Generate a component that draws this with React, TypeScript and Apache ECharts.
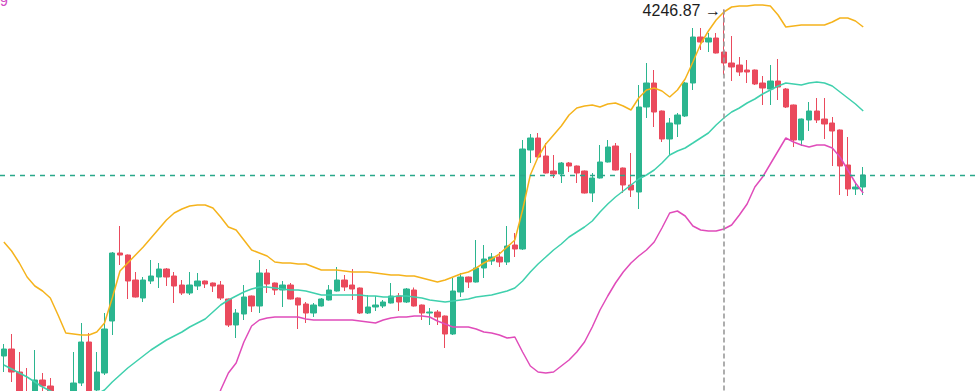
import React, { useEffect, useRef } from "react";
import * as echarts from "echarts";

const openP = [
  2861, 2889, 2797, 2713, 2685, 2765, 2741, 2705, 2665, 2685,
  2753, 2917, 2725, 2793, 3001, 3273, 3265, 3165, 3093, 3161,
  3177, 3209, 3181, 3145, 3113, 3141, 3161, 3153, 3145, 3089,
  2985, 3029, 3101, 3061, 3193, 3153, 3125, 3145, 3093, 3069,
  3033, 3061, 3085, 3121, 3165, 3145, 3133, 3033, 3057, 3061,
  3073, 3101, 3077, 3125, 3065, 3033, 3037, 3021, 2949, 3117,
  3177, 3157, 3213, 3241, 3257, 3237, 3305, 3289, 3685, 3733,
  3661, 3601, 3589, 3633, 3621, 3601, 3513, 3573, 3637, 3701,
  3613, 3545, 3517, 3857, 3953, 3841, 3729, 3789, 3821, 3953,
  4137, 4117, 4133, 4077, 4033, 4025, 4005, 4005, 3953, 3929,
  3961, 3929, 3865, 3725, 3805, 3841, 3809, 3793, 3765, 3625,
  3529, 3537,
];
const closeP = [
  2889, 2797, 2685, 2677, 2765, 2741, 2701, 2665, 2693, 2753,
  2917, 2685, 2797, 2969, 3273, 3265, 3161, 3097, 3165, 3181,
  3209, 3177, 3141, 3113, 3145, 3161, 3149, 3141, 3093, 2985,
  3033, 3097, 3061, 3193, 3149, 3125, 3145, 3089, 3065, 3033,
  3065, 3089, 3125, 3165, 3137, 3129, 3033, 3057, 3065, 3077,
  3101, 3077, 3129, 3061, 3033, 3037, 3017, 2949, 3121, 3177,
  3157, 3213, 3249, 3257, 3237, 3301, 3289, 3689, 3733, 3657,
  3593, 3589, 3633, 3621, 3593, 3513, 3573, 3637, 3697, 3605,
  3545, 3525, 3857, 3953, 3837, 3729, 3793, 3825, 3953, 4137,
  4117, 4133, 4073, 4033, 4017, 3997, 3997, 3949, 3933, 3961,
  3937, 3857, 3725, 3809, 3841, 3805, 3789, 3761, 3621, 3529,
  3537, 3585,
];
const lowP = [
  2797, 2757, 2645, 2645, 2665, 2685, 2677, 2645, 2637, 2677,
  2741, 2665, 2709, 2785, 2945, 3225, 3089, 3095, 3077, 3149,
  3133, 3141, 3073, 3105, 3105, 3125, 3133, 3117, 3085, 2977,
  2933, 3005, 3037, 3033, 3113, 3105, 3057, 3087, 2969, 2993,
  3017, 3059, 3083, 3119, 3121, 3085, 3029, 3029, 3041, 3053,
  3071, 3041, 3073, 3059, 3005, 2985, 2985, 2893, 2945, 3097,
  3133, 3155, 3173, 3225, 3217, 3225, 3257, 3285, 3633, 3655,
  3591, 3573, 3553, 3597, 3553, 3511, 3477, 3571, 3635, 3603,
  3513, 3497, 3449, 3813, 3777, 3717, 3665, 3737, 3817, 3925,
  4085, 4077, 4071, 3985, 3961, 3981, 3953, 3945, 3865, 3865,
  3885, 3853, 3697, 3701, 3761, 3793, 3729, 3621, 3505, 3501,
  3505, 3505,
];
const highP = [
  2909, 2949, 2877, 2813, 2885, 2793, 2773, 2713, 2705, 2877,
  2993, 2953, 2877, 3033, 3277, 3381, 3267, 3197, 3177, 3245,
  3233, 3213, 3197, 3165, 3197, 3193, 3163, 3155, 3161, 3091,
  3049, 3145, 3103, 3245, 3209, 3155, 3161, 3153, 3095, 3077,
  3073, 3093, 3145, 3217, 3185, 3209, 3135, 3105, 3101, 3085,
  3153, 3113, 3133, 3135, 3067, 3053, 3045, 3023, 3173, 3193,
  3179, 3325, 3305, 3273, 3277, 3381, 3353, 3725, 3749, 3753,
  3713, 3665, 3637, 3637, 3623, 3603, 3593, 3705, 3725, 3713,
  3615, 3673, 3945, 4033, 4005, 3843, 3813, 3833, 3957, 4173,
  4173, 4153, 4153, 4246.87, 4141, 4057, 4045, 4007, 3981, 4025,
  4049, 3933, 3867, 3811, 3877, 3893, 3893, 3817, 3767, 3737,
  3553, 3617,
];
const bandUpper = [
  3317, 3281, 3233, 3177, 3141, 3121, 3093, 3025, 2953, 2949,
  2945, 2945, 2957, 2993, 3093, 3201, 3233, 3265, 3297, 3333,
  3369, 3405, 3433, 3449, 3461, 3465, 3465, 3453, 3417, 3377,
  3365, 3325, 3285, 3273, 3261, 3237, 3233, 3233, 3229, 3229,
  3217, 3205, 3205, 3205, 3201, 3197, 3197, 3197, 3193, 3189,
  3185, 3185, 3181, 3181, 3173, 3165, 3157, 3165, 3177, 3189,
  3197, 3213, 3233, 3249, 3269, 3297, 3325, 3445, 3585, 3657,
  3709, 3745, 3781, 3825, 3853, 3861, 3865, 3857, 3869, 3873,
  3861, 3845, 3893, 3925, 3933, 3921, 3897, 3925, 3969, 4037,
  4109, 4161, 4205, 4237, 4257, 4261, 4261, 4265, 4265, 4261,
  4225, 4177, 4181, 4185, 4185, 4185, 4185, 4197, 4213, 4213,
  4201, 4177,
];
const bandMid = [
  2825, 2809, 2793, 2777, 2757, 2737, 2721, 2709, 2697, 2693,
  2693, 2697, 2709, 2725, 2757, 2785, 2813, 2837, 2861, 2885,
  2905, 2925, 2941, 2957, 2977, 2993, 3009, 3037, 3065, 3085,
  3101, 3117, 3129, 3137, 3137, 3133, 3129, 3125, 3125, 3121,
  3113, 3105, 3105, 3105, 3105, 3105, 3105, 3101, 3101, 3097,
  3097, 3101, 3101, 3097, 3093, 3085, 3081, 3077, 3081, 3085,
  3089, 3097, 3101, 3105, 3113, 3121, 3133, 3161, 3197, 3229,
  3257, 3285, 3309, 3337, 3357, 3377, 3401, 3437, 3469, 3497,
  3521, 3545, 3569, 3585, 3605, 3633, 3665, 3681, 3693, 3713,
  3733, 3753, 3785, 3813, 3837, 3853, 3873, 3889, 3909, 3925,
  3941, 3953, 3949, 3945, 3953, 3957, 3953, 3941, 3917, 3893,
  3869, 3841,
];
const bandLower = [
  2333, 2337, 2353, 2377, 2373, 2353, 2349, 2393, 2441, 2437,
  2441, 2449, 2461, 2457, 2421, 2369, 2393, 2409, 2425, 2437,
  2441, 2445, 2449, 2465, 2493, 2521, 2553, 2621, 2725, 2793,
  2833, 2917, 2981, 3005, 3013, 3017, 3017, 3017, 3017, 3009,
  3005, 3005, 3005, 3005, 3005, 3005, 3001, 2997, 2993, 3005,
  3013, 3017, 3017, 3021, 3021, 3017, 3001, 2989, 2977, 2977,
  2977, 2969, 2957, 2953, 2945, 2933, 2937, 2877, 2821, 2797,
  2793, 2797, 2821, 2845, 2877, 2917, 2977, 3045, 3101, 3153,
  3197, 3233, 3261, 3285, 3317, 3373, 3433, 3441, 3421, 3381,
  3365, 3361, 3361, 3369, 3385, 3425, 3469, 3537, 3577, 3629,
  3681, 3733, 3717, 3705, 3697, 3705, 3705, 3693, 3657, 3605,
  3553, 3513,
];
const PEAK_INDEX = 93;
const PEAK_VALUE = 4246.87;
const LAST_PRICE = 3585;
const TOTAL_SLOTS = 126;
const categories: string[] = Array.from({ length: TOTAL_SLOTS }, (_, i) => "D" + (i + 1));

const Y_MIN = 2721;
const Y_MAX = 4285;

const UP = "#2bb58f";
const DOWN = "#ea4a5d";

export default function App() {
  const ref = useRef<HTMLDivElement>(null);
  useEffect(() => {
    if (!ref.current) return;
    const chart = echarts.init(ref.current, null, { renderer: "svg" });
    const candles = openP.map((o, i) => [o, closeP[i], lowP[i], highP[i]]);
    chart.setOption({
      animation: false,
      backgroundColor: "#ffffff",
      grid: { left: -1, right: 1.5, top: 0, bottom: 0 },
      xAxis: {
        type: "category",
        data: categories,
        boundaryGap: true,
        show: false,
      },
      yAxis: {
        type: "value",
        min: Y_MIN,
        max: Y_MAX,
        show: false,
        splitLine: { show: false },
      },
      series: [
        {
          type: "candlestick",
          data: candles,
          barWidth: "76%",
          clip: true,
          itemStyle: {
            color: UP,
            color0: DOWN,
            borderColor: UP,
            borderColor0: DOWN,
            borderWidth: 1,
          },
          markLine: {
            silent: true,
            symbol: "none",
            label: { show: false },
            lineStyle: { color: "#9a9a9a", type: [5, 3], width: 1.6, opacity: 1 },
            data: [
              [
                { coord: [categories[PEAK_INDEX], PEAK_VALUE] },
                { coord: [categories[PEAK_INDEX], Y_MIN] },
              ],
            ],
          },
          z: 2,
        },
        {
          type: "line",
          data: bandUpper,
          symbol: "none",
          clip: true,
          lineStyle: { color: "#f5b31c", width: 1.5 },
          z: 3,
        },
        {
          type: "line",
          data: bandMid,
          symbol: "none",
          clip: true,
          lineStyle: { color: "#3fd0ad", width: 1.5 },
          markLine: {
            silent: true,
            symbol: "none",
            label: { show: false },
            lineStyle: { color: "#2aa88a", type: [5, 5], width: 1.3, opacity: 1 },
            data: [{ yAxis: LAST_PRICE }],
          },
          z: 3,
        },
        {
          type: "line",
          data: bandLower,
          symbol: "none",
          clip: true,
          lineStyle: { color: "#e04cba", width: 1.5 },
          z: 3,
        },
      ],
    });
    const pt = chart.convertToPixel({ seriesIndex: 0 }, [categories[PEAK_INDEX], PEAK_VALUE]) as number[];
    chart.setOption({
      graphic: [
        {
          type: "text",
          x: pt[0] - 3,
          y: pt[1] + 1,
          style: {
            text: "4246.87 →",
            align: "right",
            verticalAlign: "middle",
            fontSize: 16,
            fontFamily: "Liberation Sans, Arial, sans-serif",
            fill: "#1c1c1c",
          },
        },
        {
          type: "text",
          x: 0,
          y: -6,
          style: {
            text: "9",
            fontSize: 14,
            fontFamily: "Liberation Sans, Arial, sans-serif",
            fill: "#d04cc4",
          },
        },
      ],
    });
    return () => chart.dispose();
  }, []);
  return (
    <div
      ref={ref}
      style={{ position: "fixed", left: 0, top: 0, width: 977, height: 391, background: "#fff" }}
    />
  );
}
